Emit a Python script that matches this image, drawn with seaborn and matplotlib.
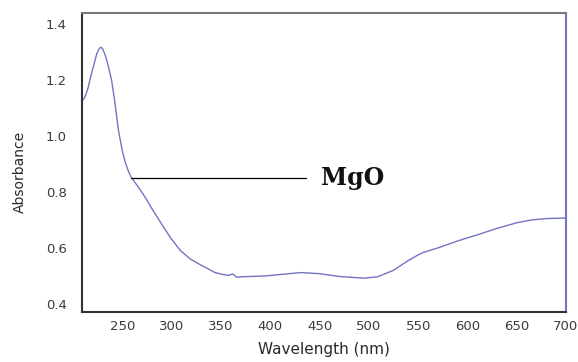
import pandas as pd
import matplotlib
matplotlib.use("Agg")
import matplotlib.pyplot as plt
import seaborn as sns

# values
wavelength = [209, 212, 215, 218, 221, 224, 226, 228, 230, 233, 236, 239, 242,
              246, 250, 253, 256, 259, 264, 268, 273, 280, 289, 299, 309, 319,
              329, 337, 344, 352, 358, 362, 366, 370, 380, 395, 410, 431, 450,
              470, 495, 509, 525, 540, 550, 556, 570, 590, 611, 630, 650, 665,
              680, 700]
absorbance = [1.125, 1.14, 1.17, 1.215, 1.255, 1.295, 1.31, 1.318, 1.312, 1.285,
              1.245, 1.20, 1.13, 1.02, 0.945, 0.905, 0.875, 0.852, 0.828, 0.808,
              0.782, 0.74, 0.69, 0.635, 0.59, 0.56, 0.54, 0.525, 0.512, 0.505,
              0.502, 0.507, 0.495, 0.497, 0.498, 0.50, 0.505, 0.512, 0.508,
              0.498, 0.492, 0.497, 0.52, 0.555, 0.575, 0.585, 0.60, 0.625,
              0.648, 0.67, 0.69, 0.70, 0.705, 0.707]
xticks = [250, 300, 350, 400, 450, 500, 550, 600, 650, 700]
yticks = [0.4, 0.6, 0.8, 1.0, 1.2, 1.4]

df = pd.DataFrame({"Wavelength": wavelength, "Absorbance": absorbance})

sns.set_style("white")
plt.rcParams["font.family"] = ["DejaVu Sans"]

fig = plt.figure(figsize=(5.78, 3.62), dpi=100)
ax = fig.add_axes([82 / 578, 1 - 312 / 362, (566 - 82) / 578, (312 - 13) / 362])

sns.lineplot(data=df, x="Wavelength", y="Absorbance", ax=ax,
             color="#7474c4", linewidth=1.0)

ax.set_xlim(209, 700)
ax.set_ylim(0.371, 1.44)
ax.set_xticks(xticks)
ax.set_yticks(yticks)
ax.set_yticklabels([f"{v:.1f}" for v in yticks])
ax.tick_params(axis="both", length=0, labelsize=9.5, colors="#3c3c3c")
ax.tick_params(axis="y", pad=11)
ax.tick_params(axis="x", pad=6)
ax.set_xlabel("Wavelength (nm)", fontsize=11, color="#2a2a2a")
ax.set_ylabel("Absorbance", fontsize=10, color="#2a2a2a")
ax.xaxis.set_label_coords(0.5, -0.1)
ax.yaxis.set_label_coords(-0.114, 0.468)

for side in ["left", "bottom"]:
    ax.spines[side].set_color("#333333")
    ax.spines[side].set_linewidth(1.5)
ax.spines["top"].set_color("#777777")
ax.spines["top"].set_linewidth(1.5)
ax.spines["right"].set_color("#7474c4")
ax.spines["right"].set_linewidth(1.5)

# annotation line and label
ax.plot([259, 436], [0.85, 0.85], color="black", linewidth=0.9)
ax.text(451, 0.85, "MgO", fontsize=17, fontweight="bold",
        family=["DejaVu Serif"], va="center", ha="left", color="#111111")

fig.savefig("out.png", dpi=100)
